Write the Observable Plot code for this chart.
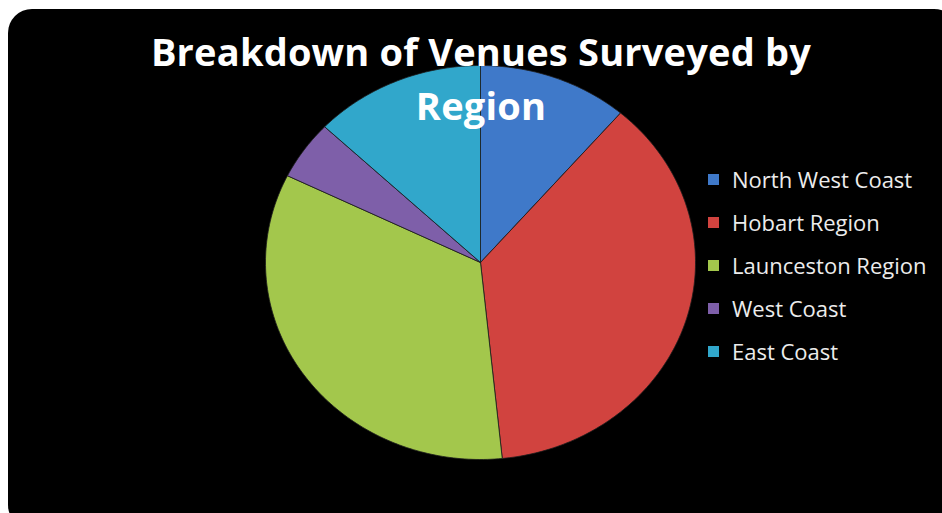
<!DOCTYPE html>
<html>
<head>
<meta charset="utf-8">
<script src="https://cdn.jsdelivr.net/npm/d3@7"></script>
<script src="https://cdn.jsdelivr.net/npm/@observablehq/plot@0.6"></script>
<style>
  html, body { margin: 0; padding: 0; background: #ffffff; }
  #wrap { position: relative; width: 942px; height: 513px; overflow: hidden; background: #fff; }
  #panel { position: absolute; left: 8px; top: 9px; width: 950px; height: 520px; background: #000; border-radius: 24px; }
  #chart { position: absolute; left: 0; top: 0; }
  #title { position: absolute; left: 0; width: 962px; top: 24px; text-align: center; color: #fff;
           font-family: "Open Sans", Lato, sans-serif; font-weight: 700; font-size: 38px; line-height: 54px; letter-spacing: 0.2px; pointer-events: none; }
  #legend { position: absolute; left: 708px; top: 165px; font-family: "Open Sans", "Noto Sans", sans-serif; font-size: 22px; color: #ececec; }
  .item { height: 43px; display: flex; align-items: flex-start; line-height: 28px; }
  .sw { width: 11px; height: 11px; margin-top: 9px; margin-right: 13px; }
</style>
</head>
<body>
<div id="wrap">
  <div id="panel"></div>
  <div id="chart"></div>
  <div id="title">Breakdown of Venues Surveyed by<br>Region</div>
  <div id="legend"></div>
</div>
<script>
const regions = ["North West Coast", "Hobart Region", "Launceston Region", "West Coast", "East Coast"];
const venues = [7, 23, 21, 3, 8];
const colors = ["#3f79c9", "#d1433f", "#a3c74c", "#7e5fa9", "#31a7cb"];

// Build slice polygons from the data (cumulative share of the circle, clockwise from 12 o'clock)
const total = d3.sum(venues);
const pts = [];
let acc = 0;
regions.forEach((r, i) => {
  const a0 = acc / total * 2 * Math.PI;
  acc += venues[i];
  const a1 = acc / total * 2 * Math.PI;
  const n = Math.max(2, Math.ceil((a1 - a0) / (Math.PI / 180)));
  pts.push({region: r, x: 0, y: 0});
  for (let k = 0; k <= n; k++) {
    const a = a0 + (a1 - a0) * k / n;
    pts.push({region: r, x: Math.sin(a), y: Math.cos(a)});
  }
  pts.push({region: r, x: 0, y: 0});
});

const chart = Plot.plot({
  width: 942,
  height: 513,
  margin: 0,
  style: {background: "transparent"},
  x: {domain: [-1, 1], range: [265, 695], axis: null},
  y: {domain: [-1, 1], range: [459, 65], axis: null},
  color: {domain: regions, range: colors},
  marks: [
    Plot.line(pts, {x: "x", y: "y", z: "region", fill: "region", stroke: "#1c1c1c", strokeWidth: 1, strokeOpacity: 0.8, curve: "linear-closed"})
  ]
});
document.getElementById("chart").appendChild(chart);

const legend = document.getElementById("legend");
regions.forEach((r, i) => {
  const it = document.createElement("div");
  it.className = "item";
  const sw = document.createElement("div");
  sw.className = "sw";
  sw.style.background = colors[i];
  const t = document.createElement("span");
  t.textContent = r;
  it.appendChild(sw); it.appendChild(t);
  legend.appendChild(it);
});
</script>
</body>
</html>
